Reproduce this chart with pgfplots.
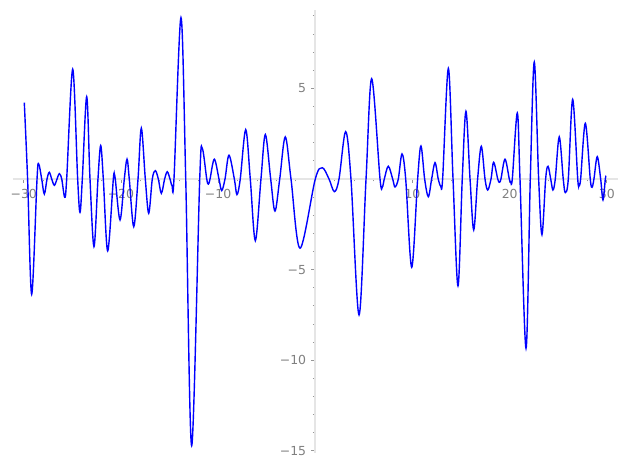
\documentclass[border=0pt]{standalone}
\usepackage{fontspec}
\setmainfont{DejaVu Sans}
\usepackage{pgfplots}
\pgfplotsset{compat=1.18}
\definecolor{axisgrey}{RGB}{229,229,229}
\definecolor{tickgrey}{RGB}{150,150,150}
\definecolor{labelgrey}{RGB}{128,128,128}
\begin{document}
\begin{tikzpicture}
\begin{axis}[
  width=627bp, height=469bp, scale only axis,
  xmin=-32.44, xmax=32.07, ymin=-16.0, ymax=9.873,
  enlargelimits=false, clip=false,
  axis lines=middle,
  axis line style={draw=none},
  tick align=outside,
  xtick={-30,-20,-10,10,20,30},
  xticklabels={−30,−20,−10,10,20,30},
  ytick={-15,-10,-5,5},
  yticklabels={−15,−10,−5,5},
  minor xtick={-30,-28,...,30},
  minor ytick={-15,-14,...,9},
  major tick length=4bp,
  minor tick length=2.5bp,
  tick style={color=tickgrey, line width=0.8bp},
  xticklabel style={font=\fontsize{12.5}{14}\selectfont, text=labelgrey, inner sep=0pt, anchor=north, yshift=-6bp},
  yticklabel style={font=\fontsize{12.5}{14}\selectfont, text=labelgrey, inner sep=0pt, anchor=east, xshift=-5bp},
]
\draw[axisgrey, line width=2bp] (axis cs:-31.13,0) -- (axis cs:31.14,0);
\draw[axisgrey, line width=2bp] (axis cs:0,-15.11) -- (axis cs:0,9.32);
\addplot[blue, line width=1.4bp, smooth, tension=0.55] coordinates {
(-29.94,4.21) (-29.6,0) (-29.18,-6.36) (-28.63,0) (-28.46,0.83) (-28.15,0)
(-27.88,-0.83) (-27.6,0) (-27.37,0.37) (-27.12,0) (-26.85,-0.35) (-26.57,0)
(-26.34,0.29) (-26.09,0) (-25.78,-1.01) (-25.58,0) (-24.96,6.05) (-24.45,0)
(-24.21,-1.84) (-23.97,0) (-23.52,4.54) (-23.18,0) (-22.77,-3.73) (-22.36,0)
(-22.08,1.84) (-21.81,0) (-21.36,-3.97) (-20.78,0) (-20.68,0.18) (-20.58,0)
(-20.09,-2.26) (-19.65,0) (-19.37,1.09) (-19.14,0) (-18.68,-2.63) (-18.24,0)
(-17.9,2.80) (-17.49,0) (-17.14,-1.89) (-16.77,0) (-16.46,0.46) (-16.15,0)
(-15.84,-0.79) (-15.5,0) (-15.23,0.40) (-14.95,0) (-14.74,-0.37) (-14.54,0)
(-13.82,8.90) (-13.33,0) (-12.72,-14.71) (-11.89,0) (-11.63,1.69) (-11.17,0)
(-11.0,-0.28) (-10.83,0) (-10.39,1.09) (-9.91,0) (-9.63,-0.64) (-9.29,0)
(-8.88,1.31) (-8.33,0) (-8.06,-0.86) (-7.72,0) (-7.16,2.72) (-6.69,0)
(-6.17,-3.40) (-5.59,0) (-5.14,2.45) (-4.59,0) (-4.15,-1.77) (-3.66,0)
(-3.09,2.32) (-2.5,0) (-1.57,-3.82) (0,0) (0.72,0.62) (1.41,0)
(1.96,-0.70) (2.44,0) (3.12,2.61) (3.67,0) (4.50,-7.50) (5.22,0)
(5.80,5.53) (6.66,0) (6.90,-0.44) (7.1,0) (7.51,0.70) (7.96,0)
(8.20,-0.44) (8.54,0) (8.92,1.38) (9.3,0) (9.92,-4.87) (10.53,0)
(10.87,1.82) (11.25,0) (11.63,-0.98) (11.97,0) (12.32,0.90) (12.65,0)
(12.90,-0.39) (13.1,0) (13.69,6.10) (14.17,0) (14.68,-5.90) (15.12,0)
(15.50,3.73) (15.92,0) (16.30,-2.81) (16.7,0) (17.08,1.80) (17.46,0)
(17.74,-0.61) (18.08,0) (18.35,0.92) (18.77,0) (18.93,-0.18) (19.1,0)
(19.52,1.09) (19.96,0) (20.1,-0.15) (20.27,0) (20.78,3.64) (21.06,0)
(21.68,-9.34) (22.12,0) (22.53,6.45) (22.98,0) (23.32,-3.07) (23.7,0)
(23.94,0.70) (24.22,0) (24.45,-0.61) (24.69,0) (25.10,2.32) (25.51,0)
(25.72,-0.75) (26.03,0) (26.48,4.39) (27.0,0) (27.13,-0.29) (27.3,0)
(27.78,3.07) (28.29,0) (28.47,-0.46) (28.67,0) (29.01,1.23) (29.36,0)
(29.60,-1.16) (29.84,0) (29.91,0.13)
};
\coordinate (BL) at (axis cs:-32.44,-16.0);
\coordinate (TR) at (axis cs:32.07,9.873);
\end{axis}
\pgfresetboundingbox
\path[use as bounding box] (BL) rectangle (TR);
\end{tikzpicture}
\end{document}
